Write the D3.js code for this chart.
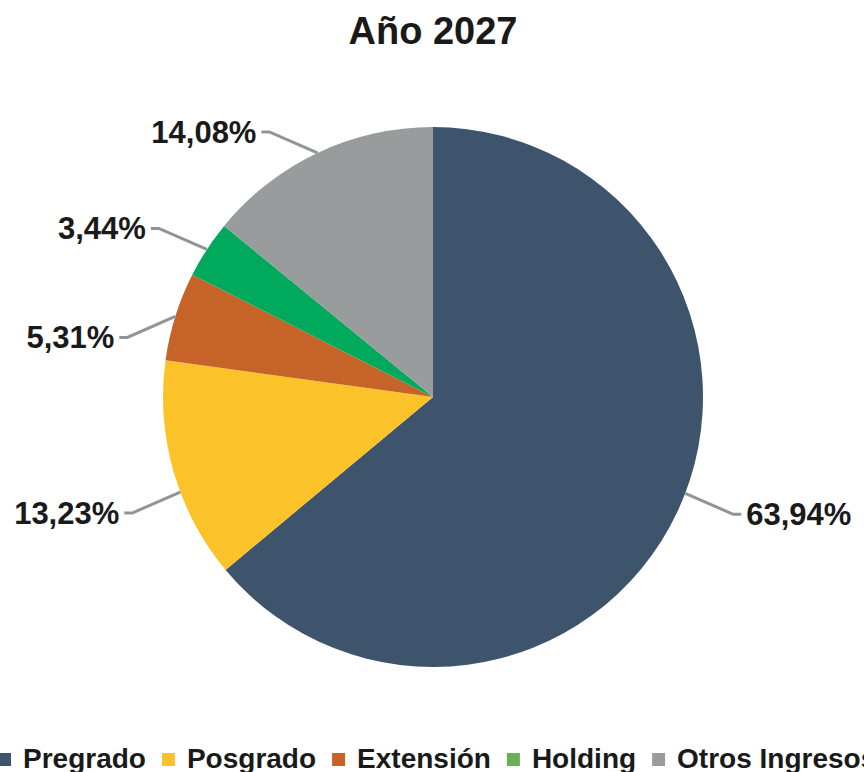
<!DOCTYPE html>
<html>
<head>
<meta charset="utf-8">
<script src="https://cdn.jsdelivr.net/npm/d3@7"></script>
<style>
  html, body { margin: 0; padding: 0; background: #fff; }
  svg { display: block; }
</style>
</head>
<body>
<svg id="chart" width="864" height="772"></svg>
<script>
// ---- data ----
const title = "Año 2027";
const categories = ["Pregrado", "Posgrado", "Extensión", "Holding", "Otros Ingresos"];
const values = [63.94, 13.23, 5.31, 3.44, 14.08];
const sliceColors = ["#3E546C", "#FCC229", "#C66328", "#00A95C", "#989C9D"];
const legendColors = ["#3E546C", "#FCC229", "#C66328", "#6AAF55", "#989C9D"];

// ---- layout ----
const W = 864, H = 772;
const cx = 433, cy = 397, R = 270;
const labelAngleNudge = [-4.2, -4.6, 0, 0, 0]; // degrees, leader-line start tweaks
const labelDir = [1, 1, 1, -1, -1];             // leader-line vertical direction

const svg = d3.select("#chart");
const fontFam = "'Liberation Sans', Arial, Helvetica, sans-serif";

const locale = d3.formatLocale({decimal: ",", thousands: ".", grouping: [3], currency: ["", ""]});
const fmt = v => locale.format(".2f")(v) + "%";

// Title
svg.append("text")
  .attr("x", 433).attr("y", 44)
  .attr("text-anchor", "middle")
  .attr("font-family", fontFam).attr("font-weight", "bold")
  .attr("font-size", 38).attr("fill", "#1a1a1a")
  .text(title);

const pie = d3.pie().sort(null).value(d => d)(values);
const arc = d3.arc().innerRadius(0).outerRadius(R);

const g = svg.append("g").attr("transform", `translate(${cx},${cy})`);
g.selectAll("path.slice").data(pie).join("path")
  .attr("class", "slice")
  .attr("d", arc)
  .attr("fill", (d, i) => sliceColors[i]);

// Labels with leader lines
pie.forEach((d, i) => {
  const a = (d.startAngle + d.endAngle) / 2 + labelAngleNudge[i] * Math.PI / 180;
  const sx = Math.sin(a), sy = -Math.cos(a);
  const x0 = R * sx, y0 = R * sy;
  const dirX = sx >= 0 ? 1 : -1, dirY = labelDir[i];
  const x1 = x0 + dirX * 48, y1 = y0 + dirY * 21;
  const x2 = x1 + dirX * 8;
  g.append("polyline")
    .attr("points", `${x0},${y0} ${x1},${y1} ${x2},${y1}`)
    .attr("fill", "none").attr("stroke", "#8F9596").attr("stroke-width", 3);
  g.append("text")
    .attr("x", x2 + dirX * 5).attr("y", y1 + 11)
    .attr("text-anchor", dirX > 0 ? "start" : "end")
    .attr("font-family", fontFam).attr("font-weight", "bold")
    .attr("font-size", 31).attr("fill", "#1a1a1a")
    .text(fmt(values[i]));
});

// Legend
const lg = svg.append("g");
let lx = -2;
categories.forEach((c, i) => {
  lg.append("rect").attr("x", lx).attr("y", 753).attr("width", 13).attr("height", 13)
    .attr("fill", legendColors[i]);
  const t = lg.append("text").attr("x", lx + 25).attr("y", 768)
    .attr("font-family", fontFam).attr("font-weight", "bold")
    .attr("font-size", 28).attr("fill", "#1a1a1a")
    .text(c);
  lx += 25 + t.node().getComputedTextLength() + 16;
});
</script>
</body>
</html>
